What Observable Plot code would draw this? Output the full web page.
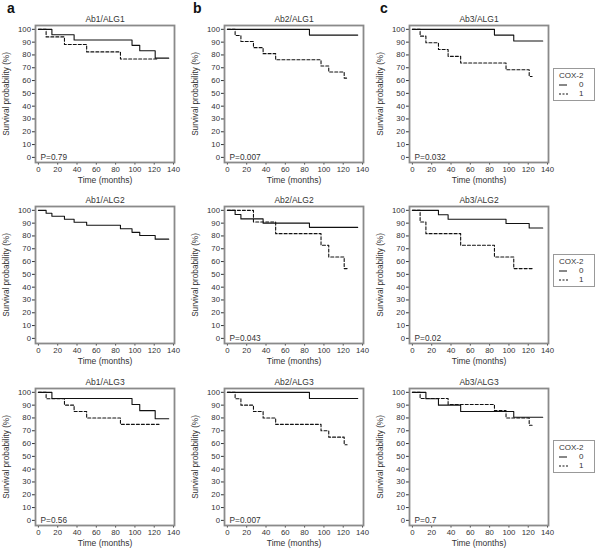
<!DOCTYPE html>
<html>
<head>
<meta charset="utf-8">
<script src="https://cdn.jsdelivr.net/npm/d3@7"></script>
<script src="https://cdn.jsdelivr.net/npm/@observablehq/plot@0.6"></script>
<style>
  html, body { margin: 0; padding: 0; background: #fff; }
  #chart { position: relative; width: 600px; height: 550px; font-family: "Liberation Sans", Arial, sans-serif; color: #333; }
  .panel { position: absolute; }
  .letter { position: absolute; font-weight: bold; font-size: 14px; line-height: 14px; color: #111; }
  .legend { position: absolute; width: 42px; height: 33px; border: 1px solid #999; box-sizing: border-box; background: #fff; }
</style>
</head>
<body>
<div id="chart"></div>
<script>
// ---- data ----
const titles = ["Ab1/ALG1","Ab2/ALG1","Ab3/ALG1","Ab1/ALG2","Ab2/ALG2","Ab3/ALG2","Ab1/ALG3","Ab2/ALG3","Ab3/ALG3"];
const pLabels = ["P=0.79","P=0.007","P=0.032","","P=0.043","P=0.02","P=0.56","P=0.007","P=0.7"];
const columnLetters = ["a","b","c"];
const xTicks = [0,20,40,60,80,100,120,140];
const yTicks = [0,10,20,30,40,50,60,70,80,90,100];
const groups = ["0","1"];
const legendTitle = "COX-2";

// COX-2 = 0 (solid): months and survival (%)
const months0 = [
  [0,14,37,97,105,121,135],
  [0,85,135],
  [0,85,105,135],
  [0,8,14,27,37,50,85,97,105,121,135],
  [0,8,14,37,85,135],
  [0,27,37,97,121,135],
  [0,14,97,105,121,135],
  [0,85,135],
  [0,14,27,50,105,135]
];
const surv0 = [
  [100,95.8,91.7,87.5,83.3,77.5,77.5],
  [100,95.5,95.5],
  [100,95.5,90.9,90.9],
  [100,97.7,95.4,93.0,90.7,88.4,85.6,82.8,80.3,77.5,77.5],
  [100,96.7,93.3,90.0,86.7,86.7],
  [100,96.6,93.1,89.7,86.2,86.2],
  [100,95.2,90.5,85.7,79.4,79.4],
  [100,95.2,95.2],
  [100,95.0,90.0,85.0,80.5,80.5]
];
// COX-2 = 1 (dashed)
const months1 = [
  [0,8,27,50,85,124],
  [0,8,14,27,37,50,97,105,121,125],
  [0,8,14,27,37,50,97,121,124],
  [],
  [0,27,50,97,105,121,124],
  [0,8,14,50,85,105,124],
  [0,8,27,37,50,85,125],
  [0,8,14,27,37,50,97,105,121,124],
  [0,8,37,85,97,121,124]
];
const surv1 = [
  [100,94.1,88.2,82.4,76.8,76.8],
  [100,95.2,90.5,85.7,81.0,76.2,71.4,66.7,61.9,61.9],
  [100,94.7,89.5,84.2,78.9,73.7,68.4,63.2,63.2],
  [],
  [100,90.9,81.8,72.7,63.6,54.5,54.5],
  [100,90.9,81.8,72.7,63.6,54.5,54.5],
  [100,95,90,85,80,75,75],
  [100,95,90,85,80,75,70,65,59.1,59.1],
  [100,95.2,90.5,85.7,80.0,74.3,74.3]
];

// ---- layout ----
const colLeft = [0, 189, 374];
const rowTop = [0, 181, 363];
const chart = document.getElementById("chart");

columnLetters.forEach((l, c) => {
  const d = document.createElement("div");
  d.className = "letter";
  d.textContent = l;
  d.style.left = [7, 193, 380][c] + "px";
  d.style.top = "1px";
  chart.appendChild(d);
});

const toSeries = (ts, ss) => ts.map((t, i) => ({t, s: ss[i]}));

titles.forEach((title, i) => {
  const row = Math.floor(i / 3), col = i % 3;
  const d0 = toSeries(months0[i], surv0[i]);
  const d1 = toSeries(months1[i], surv1[i]);
  const marks = [
    Plot.axisX({ticks: xTicks, tickSize: 2.5, tickPadding: 1.5, label: null, fontSize: 7.8}),
    Plot.axisY({ticks: yTicks, tickSize: 3, tickPadding: 1.5, label: null, fontSize: 7.8}),
    Plot.line(d0, {x: "t", y: "s", curve: "step-after", stroke: "#111", strokeWidth: 1.1}),
    Plot.line(d1, {x: "t", y: "s", curve: "step-after", stroke: "#111", strokeWidth: 1.1, strokeDasharray: "3,2"}),
    Plot.frame({stroke: "#8a8a8a", strokeWidth: 1.8}),
    Plot.text([title], {text: d => d, frameAnchor: "top", lineAnchor: "bottom", dy: -4, fontSize: 8.5}),
    Plot.text(["Time (months)"], {text: d => d, frameAnchor: "bottom", lineAnchor: "middle", dy: 18, fontSize: 8.5}),
    Plot.text(["Survival probability (%)"], {text: d => d, frameAnchor: "left", rotate: -90, textAnchor: "middle", dx: -29, fontSize: 8.2})
  ];
  if (pLabels[i]) marks.push(Plot.text([pLabels[i]], {text: d => d, frameAnchor: "bottom-left", textAnchor: "start", lineAnchor: "bottom", dx: 5, dy: -3, fontSize: 8.3}));
  const svg = Plot.plot({
    width: 180,
    height: 186,
    marginTop: 25,
    marginLeft: 35,
    marginRight: 6,
    marginBottom: 24,
    style: {fontFamily: "'Liberation Sans', Arial, sans-serif", fontSize: "7.8px", color: "#333", background: "transparent", overflow: "visible"},
    x: {domain: [-3, 141]},
    y: {domain: [-4, 103]},
    marks
  });
  svg.classList.add("panel");
  svg.style.position = "absolute";
  svg.style.left = colLeft[col] + "px";
  svg.style.top = rowTop[row] + "px";
  chart.appendChild(svg);
});

// legends (right of column c, rows 1-3)
const legendTops = [68, 254, 440];
const ns = "http://www.w3.org/2000/svg";
legendTops.forEach(top => {
  const box = document.createElement("div");
  box.className = "legend";
  box.style.left = "553px";
  box.style.top = top + "px";
  const s = document.createElementNS(ns, "svg");
  s.setAttribute("width", 40); s.setAttribute("height", 31);
  s.style.display = "block";
  const addText = (txt, x, y) => {
    const t = document.createElementNS(ns, "text");
    t.setAttribute("x", x); t.setAttribute("y", y);
    t.setAttribute("font-size", "8px");
    t.setAttribute("fill", "#333");
    t.setAttribute("font-family", "'Liberation Sans', Arial, sans-serif");
    t.setAttribute("dominant-baseline", "middle");
    t.textContent = txt;
    s.appendChild(t);
  };
  addText(legendTitle, 5, 7);
  groups.forEach((g, k) => {
    const y = 16 + k * 9;
    const ln = document.createElementNS(ns, "line");
    ln.setAttribute("x1", 5); ln.setAttribute("x2", k ? 15 : 13);
    ln.setAttribute("y1", y); ln.setAttribute("y2", y);
    ln.setAttribute("stroke", "#111"); ln.setAttribute("stroke-width", 1);
    if (k) ln.setAttribute("stroke-dasharray", "2,1.5");
    s.appendChild(ln);
    addText(g, 25, y);
  });
  box.appendChild(s);
  chart.appendChild(box);
});
</script>
</body>
</html>
